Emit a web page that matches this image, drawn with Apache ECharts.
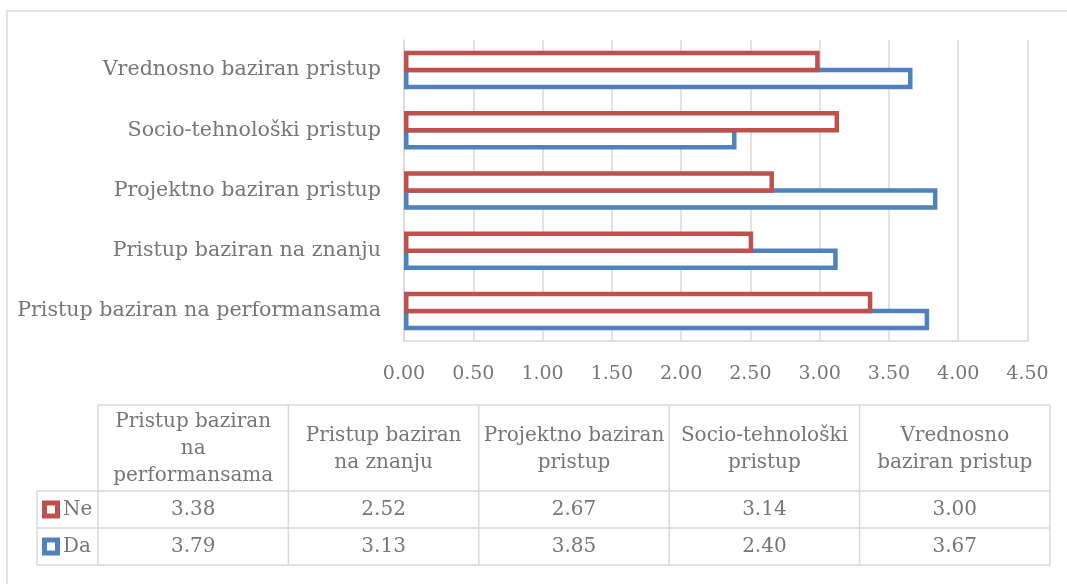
<!DOCTYPE html>
<html>
<head>
<meta charset="utf-8">
<script src="https://cdn.jsdelivr.net/npm/echarts@6/dist/echarts.min.js"></script>
<style>
html,body{margin:0;padding:0;background:#fff;}
#chart{width:1067px;height:584px;}
</style>
</head>
<body>
<div id="chart"></div>
<script>
// ---- data ----
var categories = ["Pristup baziran na performansama", "Pristup baziran na znanju", "Projektno baziran pristup", "Socio-tehnološki pristup", "Vrednosno baziran pristup"];
var tableHeaders = ["Pristup baziran\nna\nperformansama", "Pristup baziran\nna znanju", "Projektno baziran\npristup", "Socio-tehnološki\npristup", "Vrednosno\nbaziran pristup"];
var seriesNames = ["Ne", "Da"];
var neValues = [3.38, 2.52, 2.67, 3.14, 3.00];
var daValues = [3.79, 3.13, 3.85, 2.40, 3.67];
var xTicks = [0, 0.5, 1, 1.5, 2, 2.5, 3, 3.5, 4, 4.5];

var RED = '#C0504D', BLUE = '#4F81BD', GRID = '#D9D9D9', TXT = '#767676';
var FONT = '"DejaVu Serif", serif';

var chart = echarts.init(document.getElementById('chart'), null, {renderer: 'canvas'});

// ---- data table built from arrays ----
var tblLeft = 37, colStart = 98, colW = 190.4, hdrTop = 405, hdrBot = 491, rowMid = 528, tblBot = 565;
var graphics = [];
function line(x1, y1, x2, y2) {
  graphics.push({type: 'line', silent: true, shape: {x1: x1, y1: y1, x2: x2, y2: y2},
    style: {stroke: GRID, lineWidth: 1.5}});
}
graphics.push({type: 'rect', silent: true, shape: {x: 7, y: 11, width: 1080, height: 600},
  style: {fill: null, stroke: GRID, lineWidth: 1.5}, z: -10});
var tblRight = colStart + colW * categories.length;
line(colStart, hdrTop, tblRight, hdrTop);
line(tblLeft, hdrBot, tblRight, hdrBot);
line(tblLeft, rowMid, tblRight, rowMid);
line(tblLeft, tblBot, tblRight, tblBot);
line(tblLeft, hdrBot, tblLeft, tblBot);
for (var i = 0; i <= categories.length; i++) {
  line(colStart + colW * i, hdrTop, colStart + colW * i, tblBot);
}
var rows = [{name: seriesNames[0], vals: neValues, color: RED, y0: hdrBot, y1: rowMid},
            {name: seriesNames[1], vals: daValues, color: BLUE, y0: rowMid, y1: tblBot}];
for (var c = 0; c < categories.length; c++) {
  graphics.push({type: 'text', silent: true,
    style: {text: tableHeaders[c], x: colStart + colW * (c + 0.5), y: (hdrTop + hdrBot) / 2 + 1,
      align: 'center', verticalAlign: 'middle', fill: TXT, font: '20px ' + FONT, lineHeight: 27}});
}
rows.forEach(function (r) {
  var cy = (r.y0 + r.y1) / 2;
  graphics.push({type: 'rect', silent: true, shape: {x: 44.5, y: cy - 6.5, width: 13, height: 13},
    style: {fill: '#fff', stroke: r.color, lineWidth: 5}});
  graphics.push({type: 'text', silent: true,
    style: {text: r.name, x: 63, y: cy, align: 'left', verticalAlign: 'middle', fill: TXT, font: '20px ' + FONT}});
  for (var c = 0; c < r.vals.length; c++) {
    graphics.push({type: 'text', silent: true,
      style: {text: r.vals[c].toFixed(2), x: colStart + colW * (c + 0.5), y: cy,
        align: 'center', verticalAlign: 'middle', fill: TXT, font: '20px ' + FONT}});
  }
});

var option = {
  backgroundColor: '#fff',
  animation: false,
  textStyle: {fontFamily: FONT},
  grid: {left: 404, right: 39.5, top: 40, bottom: 243, containLabel: false},
  xAxis: {
    type: 'value', min: xTicks[0], max: xTicks[xTicks.length - 1], interval: xTicks[1] - xTicks[0],
    axisLine: {show: true, lineStyle: {color: GRID, width: 1.5}},
    axisTick: {show: false},
    splitLine: {show: true, lineStyle: {color: GRID, width: 1.5}},
    axisLabel: {color: TXT, fontFamily: FONT, fontSize: 19, margin: 24,
      formatter: function (v) { return v.toFixed(2); }}
  },
  yAxis: {
    type: 'category', data: categories,
    axisLine: {show: true, lineStyle: {color: GRID, width: 1.5}},
    axisTick: {show: false},
    axisLabel: {color: TXT, fontFamily: FONT, fontSize: 20.6, margin: 23}
  },
  series: [
    {name: seriesNames[0], type: 'bar', data: neValues, barWidth: 21.5, barGap: '-21%', z: 3,
      itemStyle: {color: '#fff', borderColor: RED, borderWidth: 4.5}},
    {name: seriesNames[1], type: 'bar', data: daValues, barWidth: 21.5, barGap: '-21%', z: 2,
      itemStyle: {color: '#fff', borderColor: BLUE, borderWidth: 4.5}}
  ],
  graphic: graphics
};
chart.setOption(option);
</script>
</body>
</html>
